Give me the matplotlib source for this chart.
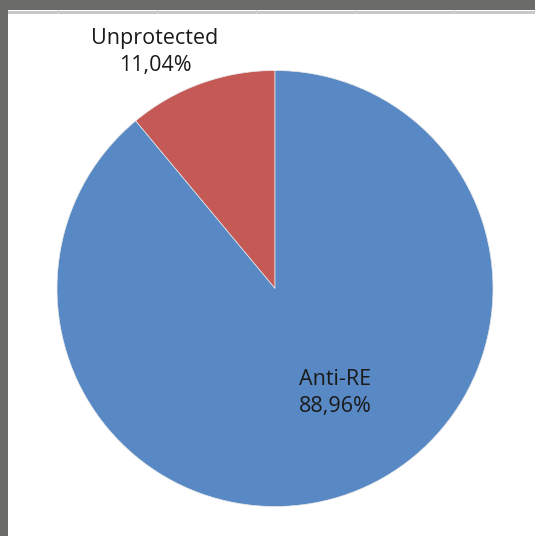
import matplotlib.pyplot as plt
from matplotlib.patches import Rectangle

# Slice data
categories = ['Unprotected', 'Anti-RE']
shares = [11.04, 88.96]
pct_labels = ['11,04%', '88,96%']
slice_colors = ['#C55956', '#5889C4']

W, H = 535, 536
fig = plt.figure(figsize=(W / 100, H / 100), dpi=100)
fig.patch.set_facecolor('white')

# window frame from the screenshot (gray bands at top and left)
fig.patches.append(Rectangle((0, 1 - 10 / H), 1, 10 / H, transform=fig.transFigure,
                             facecolor='#6b6b69', edgecolor='none', zorder=0))
fig.patches.append(Rectangle((0, 0), 7.5 / W, 1, transform=fig.transFigure,
                             facecolor='#6b6b69', edgecolor='none', zorder=0))
# light gridline strip under the band
fig.patches.append(Rectangle((7.5 / W, 1 - 13.5 / H), 1, 2.5 / H, transform=fig.transFigure,
                             facecolor='#c8c8c8', edgecolor='none', zorder=0))
for gx in [58, 157, 256, 355, 454]:
    fig.patches.append(Rectangle((gx / W, 1 - 13.5 / H), 1 / W, 3.5 / H, transform=fig.transFigure,
                                 facecolor='#d4d4d4', edgecolor='none', zorder=0))

# pie: centre (275, 288) px, radius 218 px
cx, cy, r = 275, 288.5, 218
ax = fig.add_axes([(cx - r) / W, (H - cy - r) / H, 2 * r / W, 2 * r / H])
ax.pie(shares, colors=slice_colors, startangle=90, counterclock=True,
       wedgeprops=dict(edgecolor='#e8e8e8', linewidth=0.5))
ax.set_xlim(-1, 1)
ax.set_ylim(-1, 1)
ax.set_aspect('equal')
ax.axis('off')

font = ['Open Sans', 'DejaVu Sans']
label_pos = [(155, 52), (335, 393)]
for name, pct, (lx, ly) in zip(categories, pct_labels, label_pos):
    fig.text(lx / W, 1 - ly / H, f'{name}\n{pct}', ha='center', va='center',
             fontsize=15.5, family=font, color='#1a1a1a', linespacing=1.42)

fig.savefig('out.png', dpi=100, facecolor='white')
